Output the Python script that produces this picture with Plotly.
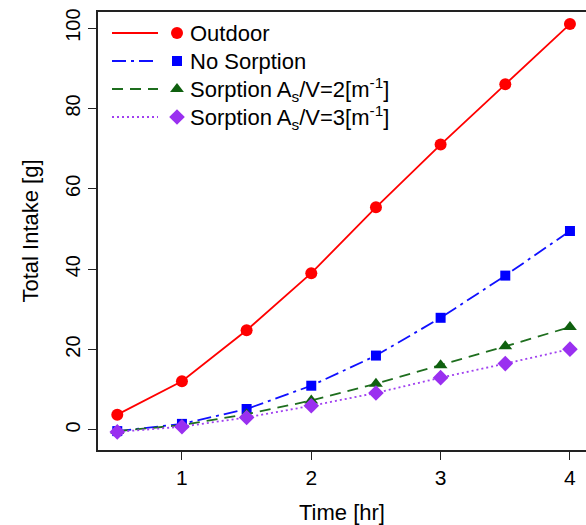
import plotly.graph_objects as go

# ---- data ----
time_hr = [0.5, 1.0, 1.5, 2.0, 2.5, 3.0, 3.5, 4.0]
outdoor = [3.8, 12.1, 24.8, 39.0, 55.4, 71.0, 86.0, 101.0]
no_sorption = [-0.3, 1.5, 5.2, 11.0, 18.5, 27.9, 38.4, 49.5]
sorption_2 = [-0.3, 1.2, 3.9, 7.3, 11.5, 16.1, 20.8, 25.6]
sorption_3 = [-0.5, 0.8, 3.1, 6.0, 9.2, 13.0, 16.5, 20.1]

series_names = ["Outdoor", "No Sorption",
                "Sorption A<sub>s</sub>/V=2[m<sup>-1</sup>]",
                "Sorption A<sub>s</sub>/V=3[m<sup>-1</sup>]"]
x_ticks = [1, 2, 3, 4]
y_ticks = [0, 20, 40, 60, 80, 100]

# ---- styles ----
FONT = "Liberation Sans, Arial, Helvetica, sans-serif"
styles = [
    dict(color="#ff0000", dash="solid", symbol="circle", msize=12, mcolor="#ff0000"),
    dict(color="#1010ff", dash="14px,5px,3px,5px", symbol="square", msize=10, mcolor="#0000ff"),
    dict(color="#1e6e1e", dash="11px,7px", symbol="triangle-up", msize=12, mcolor="#0f600f"),
    dict(color="#a040f0", dash="2px,3px", symbol="diamond", msize=12, mcolor="#9a30f0"),
]
all_series = [outdoor, no_sorption, sorption_2, sorption_3]

fig = go.Figure()
for name, ys, st in zip(series_names, all_series, styles):
    fig.add_trace(go.Scatter(
        x=time_hr, y=ys, mode="lines+markers", name=name, showlegend=False,
        line=dict(color=st["color"], width=1.8, dash=st["dash"]),
        marker=dict(symbol=st["symbol"], size=st["msize"], color=st["mcolor"],
                    line=dict(width=0)),
        cliponaxis=False,
    ))

# ---- custom legend (pixel coordinates on overlay axes) ----
leg_y0 = 33
leg_dy = 28
leg_line_x = (112, 158)
leg_marker_x = 177
leg_text_x = 188
for i, (name, st) in enumerate(zip(series_names, styles)):
    yy = leg_y0 + i * leg_dy
    fig.add_trace(go.Scatter(
        x=list(leg_line_x), y=[yy, yy], xaxis="x2", yaxis="y2", mode="lines",
        line=dict(color=st["color"], width=1.8, dash=st["dash"]),
        showlegend=False, hoverinfo="skip"))
    fig.add_trace(go.Scatter(
        x=[leg_marker_x], y=[yy], xaxis="x2", yaxis="y2", mode="markers",
        marker=dict(symbol=st["symbol"], size=st["msize"], color=st["mcolor"],
                    line=dict(width=0)),
        showlegend=False, hoverinfo="skip"))
    fig.add_annotation(x=leg_text_x, y=yy, xref="x2", yref="y2", text=name,
                       showarrow=False, xanchor="left", yanchor="middle",
                       font=dict(family=FONT, size=22, color="black"))

fig.update_layout(
    width=586, height=525,
    margin=dict(l=98, r=0, t=12, b=75),
    paper_bgcolor="white", plot_bgcolor="white",
    font=dict(family=FONT, color="black"),
    xaxis=dict(
        range=[0.351, 4.124], tickvals=x_ticks, ticktext=[str(v) for v in x_ticks],
        showgrid=False, zeroline=False, showline=True, linecolor="#222", linewidth=1.5,
        mirror=True, ticks="outside", ticklen=8, tickwidth=1.3, tickcolor="#222",
        tickfont=dict(size=21, family=FONT),
        title=dict(text="Time [hr]", font=dict(size=22, family=FONT), standoff=17),
    ),
    yaxis=dict(
        range=[-5, 104], tickvals=y_ticks, ticktext=[str(v) for v in y_ticks],
        showgrid=False, zeroline=False, showline=True, linecolor="#222", linewidth=1.5,
        mirror=False, ticks="outside", ticklen=8, tickwidth=1.3, tickcolor="#222",
        tickangle=-90, tickfont=dict(size=20, family=FONT),
        title=dict(text="Total Intake [g]", font=dict(size=22, family=FONT), standoff=18),
    ),
    xaxis2=dict(overlaying="x", range=[98, 586], visible=False, fixedrange=True),
    yaxis2=dict(overlaying="y", range=[450, 12], visible=False, fixedrange=True),
)

fig.write_html(
    "out.html",
    config={"displayModeBar": False},
    post_script="document.body.style.margin='0';document.body.style.overflow='hidden';",
)
